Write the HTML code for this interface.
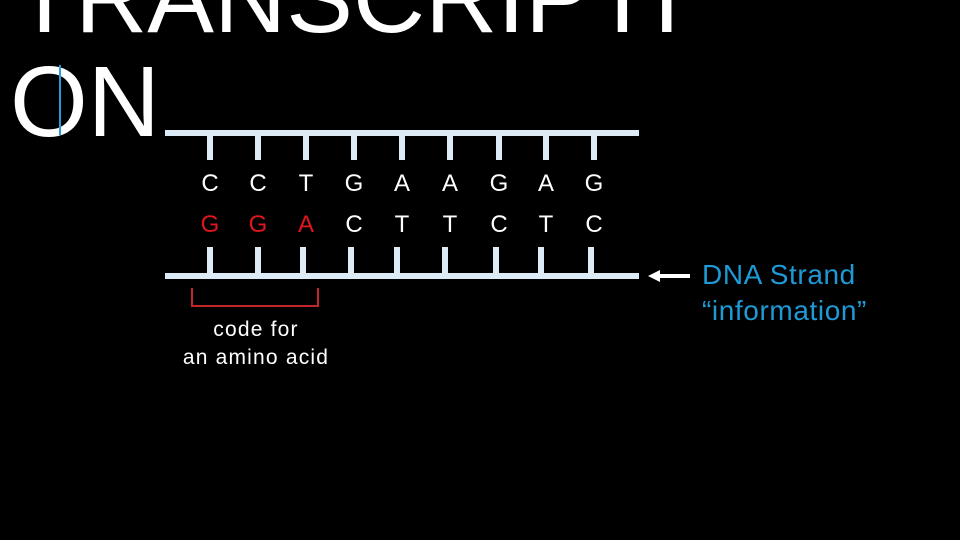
<!DOCTYPE html>
<html><head><style>
body{margin:0;width:960px;height:540px;background:#000;overflow:hidden;position:relative;font-family:"Liberation Sans",Arial,sans-serif}
.t{position:absolute;color:#fff;white-space:nowrap}
.b{position:absolute;background:#dcebf5}
.l{position:absolute;font-size:24px;width:30px;text-align:center;line-height:24px}
</style></head><body>
<div class="t" style="left:14px;top:-52px;font-size:100px;line-height:100px">TRANSCRIPTI</div>
<div class="t" style="left:10px;top:52px;font-size:100px;line-height:100px">ON</div>
<div style="position:absolute;left:59px;top:65px;width:2px;height:70px;background:#2a9ad8"></div>
<div class="b" style="left:165px;top:130px;width:474px;height:6px"></div>
<div class="b" style="left:165px;top:273px;width:474px;height:6px"></div>
<div id="ticks"></div>
<div class="t" style="left:702px;top:259px;font-size:28px;letter-spacing:0.6px;color:#1e9ad6">DNA Strand</div>
<div class="t" style="left:702px;top:295px;font-size:28px;letter-spacing:0.6px;color:#1e9ad6">“information”</div>
<svg style="position:absolute;left:0;top:0" width="960" height="540">
<polygon points="648,276 660,270 660,274 690,274 690,278 660,278 660,282" fill="#fff"/>
<polyline points="192,288 192,306 318,306 318,288" fill="none" stroke="#c0262a" stroke-width="2"/>
</svg>
<div class="t" style="left:166px;top:316px;width:180px;text-align:center;font-size:21px;letter-spacing:1.2px;line-height:28px">code for<br>an amino acid</div>
<script>
var tx=[210,258,306,354,402,450,499,546,594],bx=[210,258,303,351,397,445,496,541,591];
var top1="CCTGAAGAG",bot="GGACTTCTC",h="";
for(var i=0;i<9;i++){
h+='<div class="b" style="left:'+(tx[i]-3)+'px;top:136px;width:6px;height:24px"></div>';
h+='<div class="b" style="left:'+(bx[i]-3)+'px;top:247px;width:6px;height:26px"></div>';
h+='<div class="l" style="left:'+(tx[i]-15)+'px;top:172px;color:#fff">'+top1[i]+'</div>';
h+='<div class="l" style="left:'+(tx[i]-15)+'px;top:213px;color:'+(i<3?'#e0161c':'#fff')+'">'+bot[i]+'</div>';
}
document.getElementById('ticks').innerHTML=h;
</script>
</body></html>
